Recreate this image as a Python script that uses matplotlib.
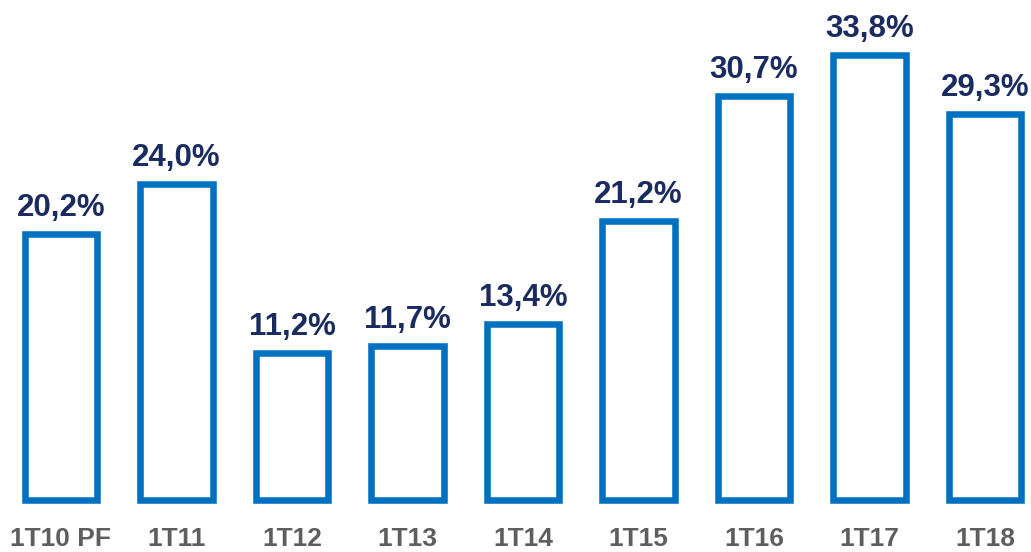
import matplotlib
matplotlib.use("Agg")
import matplotlib.pyplot as plt
from matplotlib.transforms import blended_transform_factory

categories = ["1T10 PF", "1T11", "1T12", "1T13", "1T14", "1T15", "1T16", "1T17", "1T18"]
values = [20.2, 24.0, 11.2, 11.7, 13.4, 21.2, 30.7, 33.8, 29.3]
value_labels = ["20,2%", "24,0%", "11,2%", "11,7%", "13,4%", "21,2%", "30,7%", "33,8%", "29,3%"]

plt.rcParams['font.family'] = ['Liberation Sans', 'DejaVu Sans']

fig = plt.figure(figsize=(10.31, 5.52), dpi=100)
ax = fig.add_axes([0, 0, 1, 1])
ax.set_xlim(-0.528, 8.398)
ax.set_ylim(-3.95, 38.0)
ax.axis('off')

x = list(range(len(categories)))
bars = ax.bar(x, values, width=0.63, facecolor='white', edgecolor='#0070C0',
              linewidth=4.7, joinstyle='miter')

for xi, v, lab in zip(x, values, value_labels):
    ax.annotate(lab, (xi, v), xytext=(0, 13), textcoords='offset points',
                ha='center', va='baseline', fontsize=22.5, fontweight='bold',
                color='#1A2B5F')

trans = blended_transform_factory(ax.transData, fig.transFigure)
for xi, cat in zip(x, categories):
    ax.text(xi, 1.0 / 552, cat, transform=trans, ha='center', va='bottom',
            fontsize=19, fontweight='bold', color='#5E5E5E')

fig.savefig("out.png", dpi=100)
